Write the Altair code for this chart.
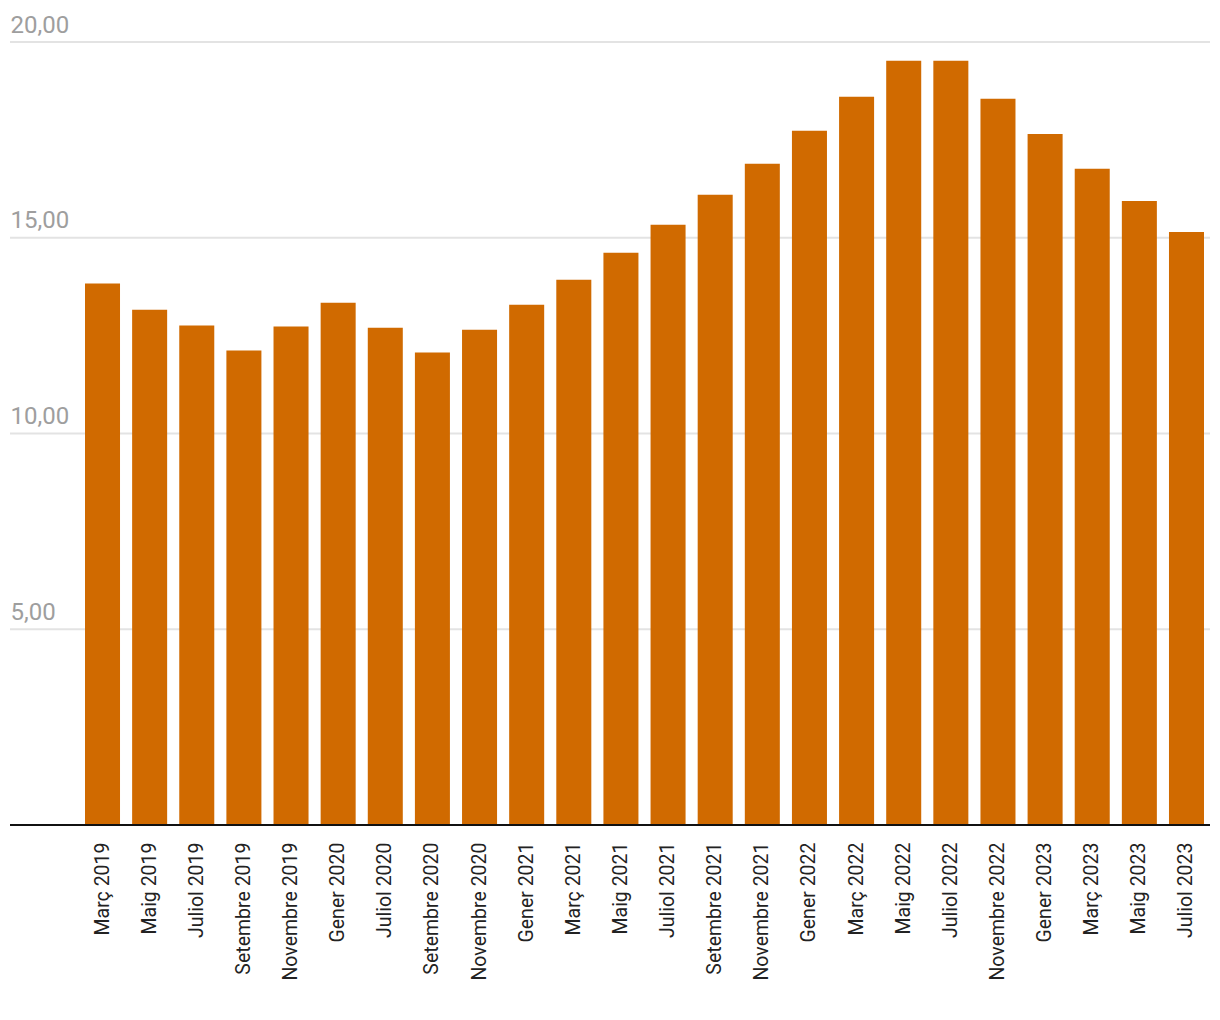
import altair as alt
import pandas as pd

months = ["Març 2019", "Maig 2019", "Juliol 2019", "Setembre 2019", "Novembre 2019",
          "Gener 2020", "Juliol 2020", "Setembre 2020", "Novembre 2020",
          "Gener 2021", "Març 2021", "Maig 2021", "Juliol 2021", "Setembre 2021",
          "Novembre 2021", "Gener 2022", "Març 2022", "Maig 2022", "Juliol 2022",
          "Novembre 2022", "Gener 2023", "Març 2023", "Maig 2023", "Juliol 2023"]
values = [13.83, 13.16, 12.76, 12.12, 12.73,
          13.34, 12.70, 12.07, 12.65,
          13.29, 13.93, 14.62, 15.33, 16.10,
          16.89, 17.73, 18.60, 19.52, 19.52,
          18.55, 17.65, 16.76, 15.94, 15.15]
y_ticks = [5, 10, 15, 20]

df = pd.DataFrame({"mes": months, "valor": values})

yscale = alt.Scale(domain=[0, 20], nice=False)

grid = alt.Chart(pd.DataFrame({"g": y_ticks})).mark_rule(color="#E3E3E3", strokeWidth=2).encode(
    y=alt.Y("g:Q", scale=yscale, title=None,
            axis=alt.Axis(values=y_ticks, format=".2f", labelExpr="replace(datum.label, '.', ',')",
                          labelAlign="left", labelBaseline="alphabetic", labelOffset=-10,
                          labelPadding=0, ticks=False, domain=False,
                          labelFontSize=24, labelColor="#9E9E9E", labelFont="Roboto",
                          grid=False)),
    x=alt.value(0), x2=alt.value(1200),
)

bars = alt.Chart(df).mark_bar(color="#D06A00").encode(
    x=alt.X("mes:N", sort=months, title=None,
            scale=alt.Scale(range=[75, 1194], paddingInner=0.257, paddingOuter=0),
            axis=alt.Axis(labelAngle=-90, labelAlign="right", labelBaseline="middle",
                          labelFontSize=19.5, labelColor="#222222", labelFont="Roboto",
                          labelPadding=17, ticks=False, domain=False, grid=False)),
    y=alt.Y("valor:Q", scale=yscale),
)

base = alt.Chart(pd.DataFrame({"v": [0]})).mark_rule(color="#111111", strokeWidth=2).encode(
    y=alt.Y("v:Q", scale=yscale),
    x=alt.value(0), x2=alt.value(1200),
)

chart = alt.layer(grid, bars, base).properties(
    width=1200, height=783,
    autosize=alt.AutoSizeParams(type="none"),
    padding={"left": 10, "top": 42, "right": 10, "bottom": 195},
).configure_view(stroke=None)

chart.save("out.html", embed_options={"renderer": "svg", "actions": False})
